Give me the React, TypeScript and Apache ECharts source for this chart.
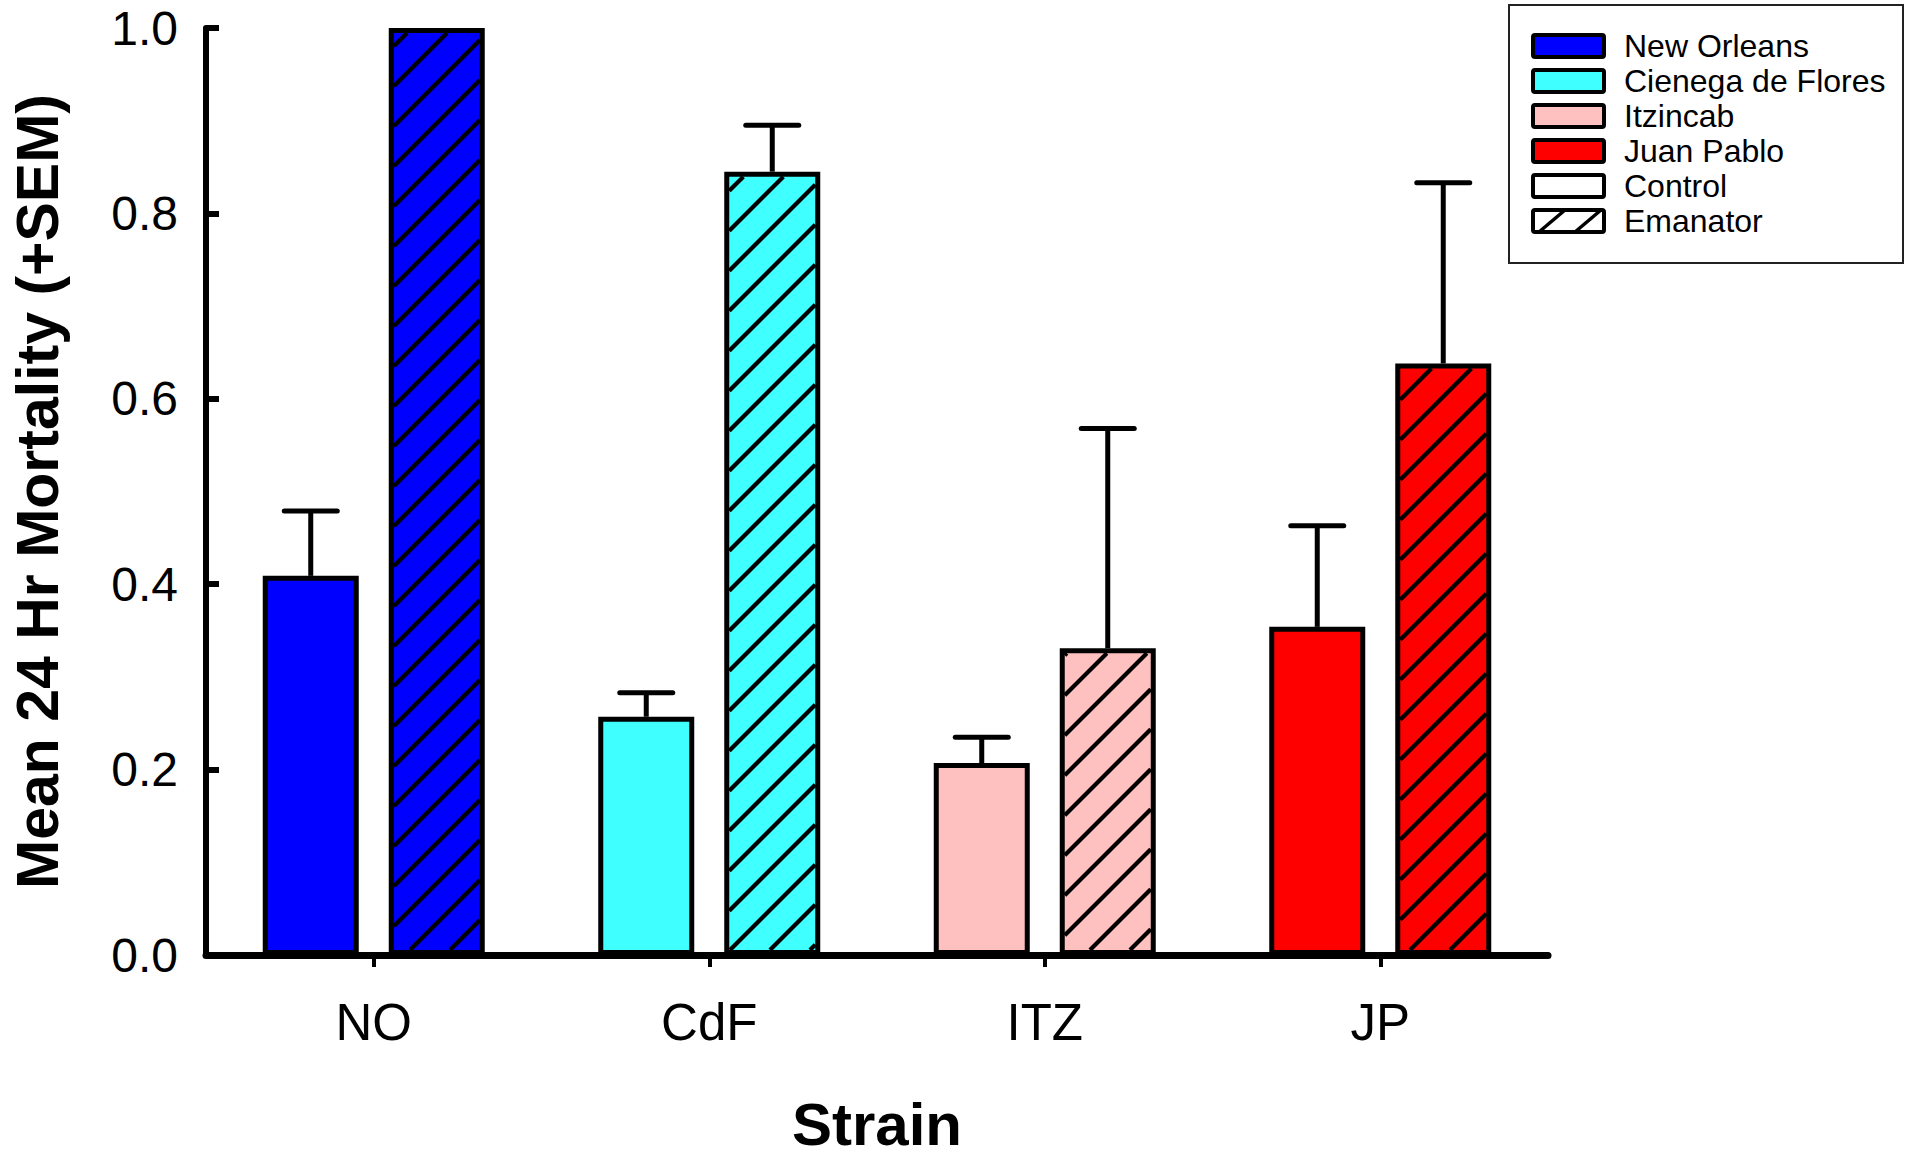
import React, { useEffect, useRef } from 'react';
import * as echarts from 'echarts';

// ---------- data ----------
const categories = ['NO', 'CdF', 'ITZ', 'JP'];
const strainNames = ['New Orleans', 'Cienega de Flores', 'Itzincab', 'Juan Pablo'];
const strainColors = ['#0000FF', '#40FFFF', '#FFC0C0', '#FF0000'];
const treatmentNames = ['Control', 'Emanator'];
const controlMean = [0.409, 0.257, 0.207, 0.354];
const controlSem = [0.07, 0.026, 0.028, 0.109];
const emanatorMean = [1.0, 0.845, 0.331, 0.638];
const emanatorSem = [0, 0.05, 0.237, 0.195];
const yTickInterval = 0.2;

// ---------- layout / style ----------
const FONT = '"Liberation Sans", Arial, Helvetica, sans-serif';
const BAR_W = 96; // outer width (ECharts keeps the border inside the bar)
const BAR_GAP = 30;
const BORDER = 5;
const OFFSET = (BAR_W + BAR_GAP) / 2;
const HATCH_STEP = 40;
const HATCH_W = 4.2;
const CAP_HALF = 26.5;

export default function App() {
  const ref = useRef<HTMLDivElement>(null);

  useEffect(() => {
    if (!ref.current) return;
    const chart = echarts.init(ref.current, null, { renderer: 'svg' });

    const barData = (means: number[]) =>
      means.map((v, i) => ({
        value: v,
        itemStyle: { color: strainColors[i], borderColor: '#000', borderWidth: BORDER },
      }));

    const errData: number[][] = [];
    controlMean.forEach((m, i) => {
      if (controlSem[i] > 0) errData.push([i, m, m + controlSem[i], -1]);
    });
    emanatorMean.forEach((m, i) => {
      if (emanatorSem[i] > 0) errData.push([i, m, m + emanatorSem[i], 1]);
    });

    // legend graphics
    const legendX = 1509;
    const legendY = 5;
    const rowY0 = 46;
    const rowStep = 35;
    const swX = 1533;
    const swW = 71;
    const swH = 22;
    const legendChildren: any[] = [
      {
        type: 'rect',
        shape: { x: legendX, y: legendY, width: 394, height: 258 },
        style: { fill: '#fff', stroke: '#222', lineWidth: 2 },
      },
    ];
    const labels = [...strainNames, ...treatmentNames];
    labels.forEach((lab, i) => {
      const cy = rowY0 + rowStep * i;
      const fill = i < 4 ? strainColors[i] : '#fff';
      legendChildren.push({
        type: 'rect',
        shape: { x: swX, y: cy - swH / 2, width: swW, height: swH, r: 2 },
        style: { fill, stroke: '#000', lineWidth: 4 },
      });
      if (i === 5) {
        legendChildren.push({
          type: 'line',
          shape: { x1: swX + 6, y1: cy + swH / 2, x2: swX + 32, y2: cy - swH / 2 },
          style: { stroke: '#000', lineWidth: 3.5 },
        });
        legendChildren.push({
          type: 'line',
          shape: { x1: swX + 42, y1: cy + swH / 2, x2: swX + 68, y2: cy - swH / 2 },
          style: { stroke: '#000', lineWidth: 3.5 },
        });
      }
      legendChildren.push({
        type: 'text',
        x: 1624,
        y: cy,
        style: {
          text: lab,
          fill: '#000',
          font: `32px ${FONT}`,
          verticalAlign: 'middle',
          align: 'left',
        },
      });
    });

    const option: any = {
      animation: false,
      backgroundColor: '#fff',
      grid: { left: 206, right: 357, top: 28, bottom: 192, containLabel: false },
      xAxis: {
        type: 'category',
        data: categories,
        name: 'Strain',
        nameLocation: 'middle',
        nameGap: 139,
        nameTextStyle: { fontSize: 60, fontWeight: 'bold', color: '#000', fontFamily: FONT },
        axisLine: { show: true, lineStyle: { color: '#000', width: 7 } },
        axisTick: { show: true, alignWithLabel: true, length: 12, lineStyle: { color: '#000', width: 4 } },
        axisLabel: { fontSize: 51, margin: 42, color: '#000', fontFamily: FONT },
        splitLine: { show: false },
      },
      yAxis: {
        type: 'value',
        min: 0,
        max: 1,
        interval: yTickInterval,
        name: 'Mean 24 Hr Mortality (+SEM)',
        nameLocation: 'middle',
        nameGap: 139,
        nameRotate: 90,
        nameTextStyle: { fontSize: 59, fontWeight: 'bold', color: '#000', fontFamily: FONT },
        axisLine: { show: true, lineStyle: { color: '#000', width: 6 } },
        axisTick: { show: true, inside: true, length: 13, lineStyle: { color: '#000', width: 6 } },
        axisLabel: {
          formatter: (v: number) => v.toFixed(1),
          fontSize: 48,
          margin: 28,
          color: '#000',
          fontFamily: FONT,
        },
        splitLine: { show: false },
      },
      series: [
        {
          name: 'Control',
          type: 'bar',
          barWidth: BAR_W,
          barGap: `${(BAR_GAP / BAR_W) * 100}%`,
          data: barData(controlMean),
          z: 2,
        },
        {
          name: 'Emanator',
          type: 'bar',
          barWidth: BAR_W,
          barGap: `${(BAR_GAP / BAR_W) * 100}%`,
          data: barData(emanatorMean),
          z: 2,
        },
        {
          name: 'Emanator hatch',
          type: 'custom',
          z: 3,
          silent: true,
          data: emanatorMean.map((v, i) => [i, v]),
          encode: { x: 0, y: 1 },
          renderItem: (params: any, api: any) => {
            const i = api.value(0);
            const v = api.value(1);
            const top = api.coord([i, v]);
            const base = api.coord([i, 0]);
            const cx = top[0] + OFFSET;
            const half = BAR_W / 2 - BORDER;
            const x0 = cx - half;
            const x1 = cx + half;
            const y0 = top[1] + BORDER;
            const y1 = base[1] - BORDER;
            const children: any[] = [];
            const cStart = Math.ceil((x0 + y0) / HATCH_STEP) * HATCH_STEP;
            for (let c = cStart; c <= x1 + y1; c += HATCH_STEP) {
              const sx = Math.max(x0, c - y1);
              const ex = Math.min(x1, c - y0);
              if (ex - sx < 1) continue;
              children.push({
                type: 'line',
                shape: { x1: sx, y1: c - sx, x2: ex, y2: c - ex },
                style: { stroke: '#000', lineWidth: HATCH_W },
              });
            }
            return { type: 'group', children };
          },
        },
        {
          name: 'SEM',
          type: 'custom',
          z: 4,
          silent: true,
          data: errData,
          encode: { x: 0, y: [1, 2] },
          renderItem: (params: any, api: any) => {
            const i = api.value(0);
            const lo = api.coord([i, api.value(1)]);
            const hi = api.coord([i, api.value(2)]);
            const side = api.value(3);
            const x = lo[0] + side * OFFSET;
            return {
              type: 'group',
              children: [
                {
                  type: 'line',
                  shape: { x1: x, y1: lo[1], x2: x, y2: hi[1] },
                  style: { stroke: '#000', lineWidth: 5 },
                },
                {
                  type: 'line',
                  shape: { x1: x - CAP_HALF, y1: hi[1], x2: x + CAP_HALF, y2: hi[1] },
                  style: { stroke: '#000', lineWidth: 5, lineCap: 'round' },
                },
              ],
            };
          },
        },
      ],
      graphic: [{ type: 'group', children: legendChildren }],
    };

    chart.setOption(option);
    return () => chart.dispose();
  }, []);

  return (
    <div
      ref={ref}
      style={{ position: 'absolute', left: 0, top: 0, width: 1905, height: 1159, background: '#fff' }}
    />
  );
}
